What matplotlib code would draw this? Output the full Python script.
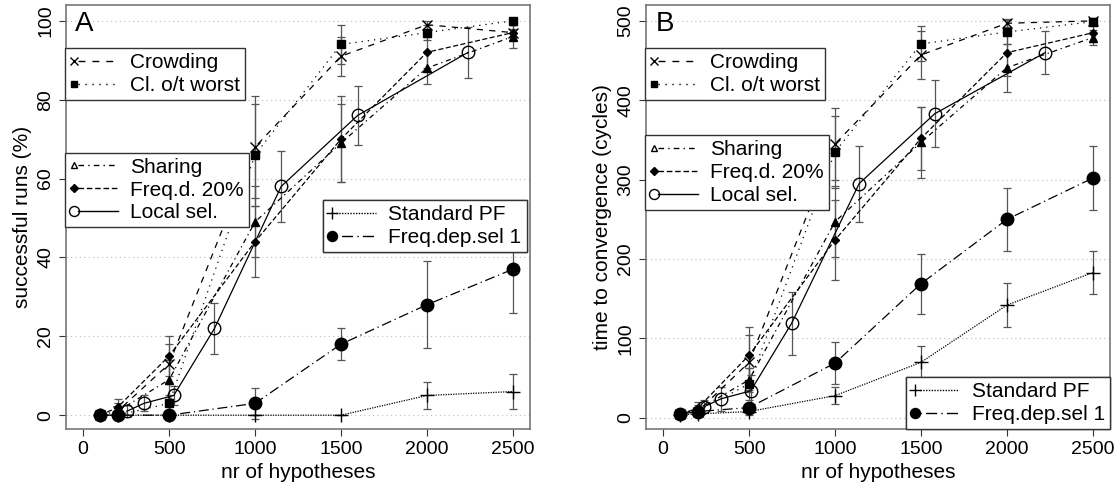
import matplotlib
matplotlib.use("Agg")
import matplotlib.pyplot as plt
from matplotlib.lines import Line2D
from matplotlib.legend_handler import HandlerLine2DCompound

plt.rcParams['font.family'] = ['Liberation Sans', 'DejaVu Sans']

# hypotheses counts used by most methods
N = [100, 200, 500, 1000, 1500, 2000, 2500]

# panel A: successful runs (%)
a_crowd = [0, 1, 13, 68, 91, 99, 97]
a_crowd_err = [0, 1, 5, 13, 5, 1, 1]
a_worst = [0, 0, 3, 66, 94, 97, 100]
a_worst_err = [0, 0, 2, 13, 5, 2, 0]
a_share = [0, 1, 9, 49, 69, 88, 96]
a_share_err = [0, 2, 5, 9, 10, 4, 3]
a_freqd = [0, 2, 15, 44, 70, 92, 97]
a_freqd_err = [0, 2, 5, 9, 11, 4, 2]
a_local_n = [254, 353, 527, 764, 1152, 1597, 2240]
a_local = [1, 3, 5, 22, 58, 76, 92]
a_local_err = [1.5, 2, 2.5, 6.5, 9, 7.5, 6.5]
a_std = [0, 0, 0, 0, 0, 5, 6]
a_std_err = [0, 0, 0, 0, 0, 3.5, 4.5]
a_fds = [0, 0, 0, 3, 18, 28, 37]
a_fds_err = [0, 0, 0, 4, 4, 11, 11]

# panel B: time to convergence (cycles)
b_crowd = [5, 8, 70, 345, 457, 497, 500]
b_crowd_err = [2, 5, 35, 45, 30, 5, 3]
b_worst = [5, 8, 43, 335, 471, 486, 499]
b_worst_err = [2, 5, 20, 45, 22, 15, 5]
b_share = [5, 10, 48, 247, 347, 441, 479]
b_share_err = [2, 6, 15, 45, 45, 30, 10]
b_freqd = [5, 12, 79, 224, 352, 460, 485]
b_freqd_err = [2, 8, 35, 50, 40, 30, 12]
b_local_n = [237, 336, 509, 747, 1140, 1580, 2222]
b_local = [14, 24, 34, 119, 295, 383, 460]
b_local_err = [8, 15, 20, 40, 48, 42, 27]
b_std = [4, 5, 8, 28, 70, 142, 183]
b_std_err = [2, 3, 4, 11, 20, 28, 27]
b_fds = [5, 8, 13, 69, 169, 250, 302]
b_fds_err = [2, 3, 5, 26, 38, 40, 40]

# style per method: marker, marker fill, linestyle, marker size
styles = {
    'Crowding':       ('x', 'none', (0, (5, 5)), 7),
    'Cl. o/t worst':  ('s', 'k', (0, (1, 4)), 6),
    'Sharing':        ('^', 'k', (0, (4, 3, 1, 3)), 6),
    'Freq.d. 20%':    ('D', 'k', (0, (4, 2)), 4.5),
    'Local sel.':     ('o', 'none', '-', 9),
    'Standard PF':    ('+', 'k', (0, (1, 1)), 10),
    'Freq.dep.sel 1': ('o', 'k', (0, (1, 3, 8, 3)), 9),
}


class LeftMarker(HandlerLine2DCompound):
    # R style legend key: symbol at the left, line running to the right
    def create_artists(self, legend, orig_handle, xdescent, ydescent, width, height, fontsize, trans):
        arts = super().create_artists(legend, orig_handle, xdescent, ydescent, width, height, fontsize, trans)
        line, marker = arts
        xd = line.get_xdata()
        x0, x1 = xd[0], xd[-1]
        marker.set_xdata([x0 + 3])
        line.set_xdata([x0 + 6, x1])
        return arts


def draw(ax, x, y, err, name):
    m, fc, ls, ms = styles[name]
    ax.errorbar(x, y, yerr=err, color='k', ecolor='#555555', elinewidth=0.9,
                capsize=3, capthick=0.9, marker=m, markerfacecolor=fc,
                markeredgecolor='k', markersize=ms, linestyle=ls, linewidth=0.9)


def handle(name, legend_fc=None):
    m, fc, ls, ms = styles[name]
    if legend_fc is not None:
        fc = legend_fc
    return Line2D([], [], color='k', marker=m, markerfacecolor=fc,
                  markeredgecolor='k', markersize=ms * 0.8, linestyle=ls, linewidth=1.0)


def legend(ax, names, loc, anchor, fcs=None):
    fcs = fcs or [None] * len(names)
    hs = [handle(n, f) for n, f in zip(names, fcs)]
    leg = ax.legend(hs, names, loc=loc, numpoints=1,
                    handler_map={h: LeftMarker() for h in hs},
                    bbox_to_anchor=anchor, fontsize=15, frameon=True, fancybox=False,
                    edgecolor='#333333', framealpha=1, handlelength=2.3, handletextpad=0.6,
                    borderpad=0.25, labelspacing=0.18, borderaxespad=0)
    leg.get_frame().set_linewidth(1.0)
    ax.add_artist(leg)


fig = plt.figure(figsize=(11.17, 4.91), dpi=100)
W, H = 1117, 491
axA = fig.add_axes([66 / W, 1 - 429 / H, 464 / W, 424 / H])
axB = fig.add_axes([646 / W, 1 - 429 / H, 464 / W, 424 / H])

for ax, d in [(axA, 'a'), (axB, 'b')]:
    g = globals()
    draw(ax, N, g[d + '_std'], g[d + '_std_err'], 'Standard PF')
    draw(ax, N, g[d + '_fds'], g[d + '_fds_err'], 'Freq.dep.sel 1')
    draw(ax, N, g[d + '_share'], g[d + '_share_err'], 'Sharing')
    draw(ax, N, g[d + '_freqd'], g[d + '_freqd_err'], 'Freq.d. 20%')
    draw(ax, g[d + '_local_n'], g[d + '_local'], g[d + '_local_err'], 'Local sel.')
    draw(ax, N, g[d + '_crowd'], g[d + '_crowd_err'], 'Crowding')
    draw(ax, N, g[d + '_worst'], g[d + '_worst_err'], 'Cl. o/t worst')
    ax.set_xticks([0, 500, 1000, 1500, 2000, 2500])
    ax.set_xlim(-100, 2600)
    ax.set_xlabel('nr of hypotheses', fontsize=15)
    ax.tick_params(labelsize=14, length=5, width=0.8, color='#333333')
    for s in ax.spines.values():
        s.set_color('#777777')
        s.set_linewidth(1.2)

axA.set_ylim(-3.5, 104)
axA.set_yticks([0, 20, 40, 60, 80, 100])
axA.set_ylabel('successful runs (%)', fontsize=15)
axB.set_ylim(-14, 520)
axB.set_yticks([0, 100, 200, 300, 400, 500])
axB.set_ylabel('time to convergence (cycles)', fontsize=15)

for ax in (axA, axB):
    for lbl in ax.get_yticklabels():
        lbl.set_rotation(90)
        lbl.set_va('center')
    for t in ax.get_yticks():
        ax.axhline(t, color='#bbbbbb', linestyle=(0, (1, 3)), linewidth=0.8, zorder=0)

axA.text(0.02, 0.985, 'A', transform=axA.transAxes, fontsize=20, va='top', ha='left')
axB.text(0.02, 0.985, 'B', transform=axB.transAxes, fontsize=20, va='top', ha='left')

legend(axA, ['Crowding', 'Cl. o/t worst'], 'upper left', (-0.003, 0.898))
legend(axA, ['Sharing', 'Freq.d. 20%', 'Local sel.'], 'upper left', (-0.003, 0.652), ['none', None, None])
legend(axA, ['Standard PF', 'Freq.dep.sel 1'], 'upper left', (0.553, 0.54))
legend(axB, ['Crowding', 'Cl. o/t worst'], 'upper left', (-0.003, 0.898))
legend(axB, ['Sharing', 'Freq.d. 20%', 'Local sel.'], 'upper left', (-0.003, 0.693), ['none', None, None])
legend(axB, ['Standard PF', 'Freq.dep.sel 1'], 'lower right', (1.0, 0.0))

fig.savefig('out.png', dpi=100)
